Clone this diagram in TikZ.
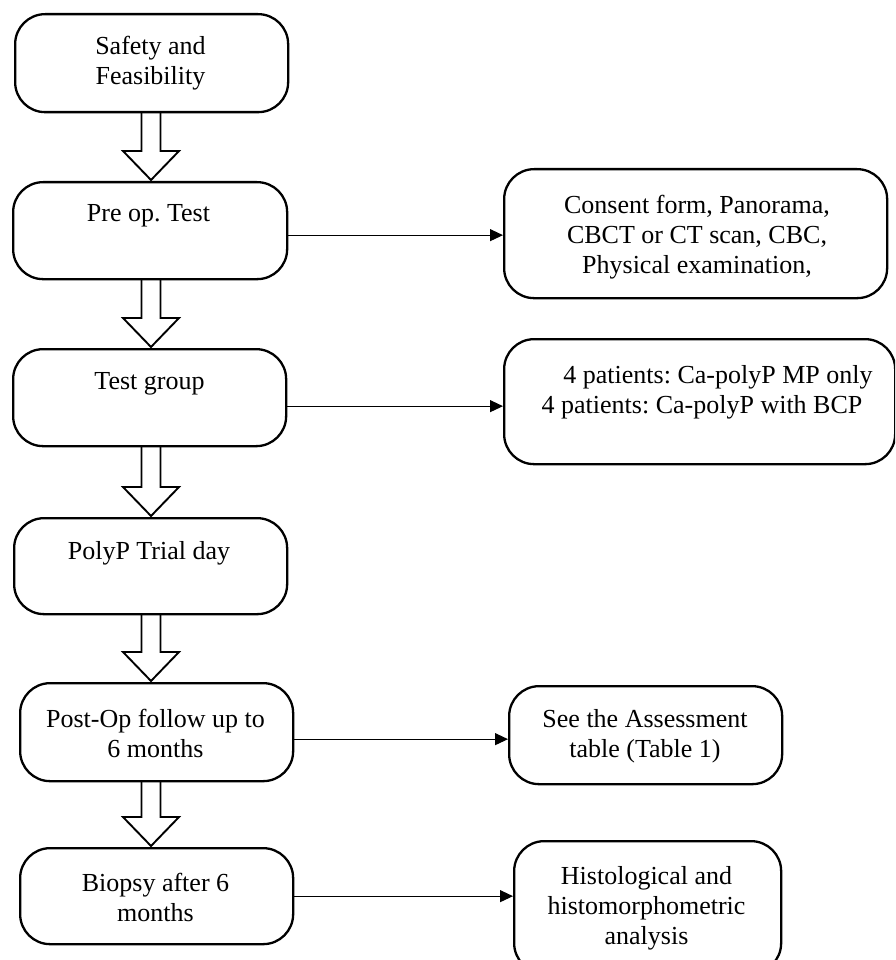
\documentclass[tikz,border=0pt]{standalone}
\usepackage{fontspec}
\setmainfont{Liberation Serif}
\usetikzlibrary{arrows.meta,calc}
\frenchspacing
\newcommand\mkbox[5]{\node[box, anchor=north west, minimum width={#4-#2}, minimum height={#5-#3}] (#1) at (#2,#3) {};}
\newcommand\blkarr[2]{%
  \draw[blk] let \p1=(#1.south), \p2=(#2.north) in
    (141.5,{\y1+0.5pt}) -- (141.5,{\y2+30pt}) -- (123,{\y2+30pt}) -- (151,{\y2+1pt})
    -- (179,{\y2+30pt}) -- (160.5,{\y2+30pt}) -- (160.5,{\y1+0.5pt});}
\begin{document}
\begin{tikzpicture}[x=1pt,y=-1pt,
  box/.style={draw, line width=2.3pt, rounded corners=30pt, inner sep=0pt},
  lbl/.style={font=\frenchspacing\fontsize{26}{30}\selectfont, align=center, inner sep=0pt},
  conn/.style={draw=black, line width=1.1pt, -{Triangle[length=13pt,width=12pt]}},
  blk/.style={draw, line width=1.9pt, line join=miter}]
\useasboundingbox (0,0) rectangle (895,960);
\clip (0,0) rectangle (895,960);
% left column boxes
\mkbox{safety}{14}{13}{287}{111}
\mkbox{preop}{12}{181}{286}{278}
\mkbox{testg}{12}{348}{285}{445}
\mkbox{polyp}{13}{517}{286}{613}
\mkbox{postop}{19}{682}{292}{780}
\mkbox{biopsy}{19}{847}{292}{943}
% right column boxes
\mkbox{consent}{503}{168}{886}{297}
\mkbox{pats}{503}{338}{894}{463}
\mkbox{see}{508}{685}{781}{783}
\mkbox{hist}{513}{840}{780}{972}
% labels
\node[lbl] (tsafety) at (150.5,63.5) {Safety and\\Feasibility};
\node[lbl] (tpreop) at (148.5,216) {Pre op. Test};
\node[lbl] (ttestg) at (149.5,384) {Test group};
\node[lbl] (tpolyp) at (149,553) {PolyP Trial day};
\node[lbl] (tpostop) at (155.5,733) {Post-Op follow up to\\6 months};
\node[lbl] (tbiopsy) at (155.5,897) {Biopsy after 6\\months};
\node[lbl] (tconsent) at (697,237.5) {Consent form, Panorama,\\CBCT or CT scan, CBC,\\Physical examination,};
\node[lbl] (tpats) at (702,392) {\hspace*{32pt}4 patients: Ca-polyP MP only\\4 patients: Ca-polyP with BCP};
\node[lbl] (tsee) at (645,736) {See the Assessment\\table (Table 1)};
\node[lbl] (thist) at (646.5,908) {Histological and\\histomorphometric\\analysis};
% block arrows
\blkarr{safety}{preop}
\blkarr{preop}{testg}
\blkarr{testg}{polyp}
\blkarr{polyp}{postop}
\blkarr{postop}{biopsy}
% connectors
\draw[conn] ([yshift=-4.5pt]preop.east) -- ([yshift=-4.5pt]preop.east -| consent.west);
\draw[conn] ([yshift=-8.5pt]testg.east) -- ([yshift=-8.5pt]testg.east -| pats.west);
\draw[conn] ([yshift=-7pt]postop.east) -- ([yshift=-7pt]postop.east -| see.west);
\draw[conn] (biopsy.east) -- (biopsy.east -| hist.west);
\end{tikzpicture}
\end{document}
